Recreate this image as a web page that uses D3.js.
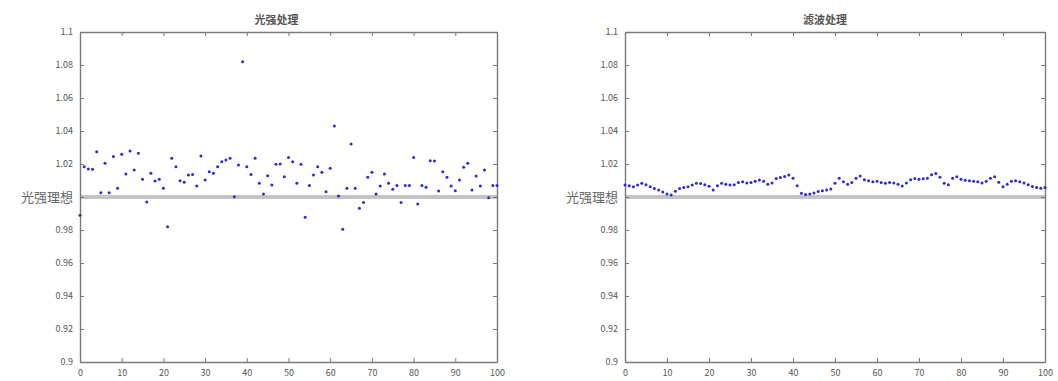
<!DOCTYPE html>
<html>
<head>
<meta charset="utf-8">
<script src="https://cdn.jsdelivr.net/npm/d3@7"></script>
<style>
  body { margin: 0; background: #fff; }
  svg text { font-family: "Noto Sans CJK SC", "DejaVu Sans", sans-serif; }
</style>
</head>
<body>
<div id="chart"></div>
<script>
// chart data
var titles = ["光强处理", "滤波处理"];
var refLabel = "光强理想";
var xTicks = [0, 10, 20, 30, 40, 50, 60, 70, 80, 90, 100];
var yTicks = [0.9, 0.92, 0.94, 0.96, 0.98, 1.0, 1.02, 1.04, 1.06, 1.08, 1.1];
var refValue = 1.0;

// left panel: raw measurements, sample 0..100
var rawValues = [
  0.989, 1.0184, 1.017, 1.0168, 1.0275, 1.0026, 1.0204, 1.0026, 1.0245, 1.0053,
  1.0259, 1.014, 1.0279, 1.0164, 1.0265, 1.0107, 0.997, 1.0144, 1.0097, 1.0107,
  1.0053, 0.982, 1.0235, 1.0184, 1.0099, 1.0089, 1.0133, 1.0137, 1.0067, 1.0249,
  1.0103, 1.0153, 1.0144, 1.0184, 1.0214, 1.0225, 1.0235, 1.0002, 1.0194, 1.082,
  1.0184, 1.0137, 1.0235, 1.0083, 1.0018, 1.0129, 1.0073, 1.0198, 1.02, 1.0123,
  1.024, 1.0214, 1.0083, 1.0198, 0.9877, 1.0069, 1.0133, 1.0184, 1.015, 1.0032,
  1.0174, 1.043, 1.0006, 0.9804, 1.0053, 1.0321, 1.0053, 0.9932, 0.9966, 1.012,
  1.015, 1.0018, 1.0067, 1.014, 1.0083, 1.0047, 1.0069, 0.9966, 1.0069, 1.0069,
  1.024, 0.9958, 1.0069, 1.0059, 1.022, 1.0218, 1.0036, 1.0153, 1.012, 1.0067,
  1.0038, 1.0103, 1.018, 1.0204, 1.0042, 1.0127, 1.0067, 1.0164, 0.9996, 1.0069,
  1.0069
];

// right panel: filtered values, sample 0..100
var filteredValues = [
  1.0073, 1.0068, 1.0062, 1.0072, 1.0083, 1.0075, 1.0062, 1.0052, 1.0042, 1.003,
  1.0018, 1.0012, 1.0035, 1.0052, 1.0058, 1.0062, 1.0072, 1.0083, 1.0082, 1.0075,
  1.0065, 1.0042, 1.0068, 1.0083, 1.0078, 1.0072, 1.0075, 1.0088, 1.0092, 1.0085,
  1.0088, 1.0095, 1.0103, 1.0095, 1.0078, 1.0085, 1.0112, 1.0118, 1.0125, 1.0133,
  1.0113, 1.0068, 1.0022, 1.0015, 1.0018, 1.0025, 1.0034, 1.0038, 1.0042, 1.0048,
  1.0083, 1.0113, 1.0092, 1.0078, 1.0088, 1.0113, 1.0127, 1.0105, 1.0098, 1.0092,
  1.0095, 1.0088, 1.0083, 1.0088, 1.0085, 1.0078, 1.0067, 1.0085, 1.0105, 1.0112,
  1.0108, 1.011, 1.0113, 1.0135, 1.0142, 1.012, 1.0083, 1.0075, 1.0113, 1.0123,
  1.0108, 1.0102, 1.0098, 1.0095, 1.0092, 1.0085, 1.0095, 1.0113, 1.0123, 1.009,
  1.0062, 1.0078, 1.0095, 1.0099, 1.0092, 1.0085, 1.0075, 1.0064, 1.0058, 1.0053,
  1.0058
];

//******************
// Setup
//******************
var width = 1058;
var height = 381;
var plotTop = 32, plotBottom = 362;

var svg = d3
  .select("#chart")
  .append("svg")
  .attr("width", width)
  .attr("height", height);

svg.append("rect").attr("width", width).attr("height", height).attr("fill", "#fff");

var panels = [
  { title: titles[0], values: rawValues, left: 80, right: 497, titleShift: -12 },
  { title: titles[1], values: filteredValues, left: 625, right: 1045, titleShift: -10 }
];

var yFmt = (d) => (Math.abs(d - refValue) < 1e-9 ? refLabel : d3.format("")(+d.toFixed(2)));

panels.forEach(function (p) {
  var x = d3.scaleLinear().domain([0, 100]).range([p.left, p.right]);
  var y = d3.scaleLinear().domain([0.9, 1.1]).range([plotBottom, plotTop]);

  var g = svg.append("g");

  // reference line at 1.0
  g.append("line")
    .attr("x1", x(0))
    .attr("x2", x(100))
    .attr("y1", y(refValue))
    .attr("y2", y(refValue))
    .attr("stroke", "#c4c4c4")
    .attr("stroke-width", 4);

  // axes with inward ticks (matlab style)
  var axisStyle = (sel) => {
    sel.select(".domain").attr("stroke", "#7a7a7a").attr("stroke-width", 1.4);
    sel.selectAll(".tick line").attr("stroke", "#7a7a7a");
    sel.selectAll(".tick text").attr("fill", "#555").attr("font-size", 9);
  };

  g.append("g")
    .attr("transform", `translate(0,${plotBottom})`)
    .call(d3.axisBottom(x).tickValues(xTicks).tickSizeInner(-4).tickSizeOuter(0).tickPadding(8))
    .call(axisStyle);

  g.append("g")
    .attr("transform", `translate(0,${plotTop})`)
    .call(d3.axisTop(x).tickValues(xTicks).tickSizeInner(-4).tickSizeOuter(0).tickFormat(""))
    .call(axisStyle);

  g.append("g")
    .attr("transform", `translate(${p.left},0)`)
    .call(d3.axisLeft(y).tickValues(yTicks).tickSizeInner(-4).tickSizeOuter(0).tickPadding(7).tickFormat(yFmt))
    .call(axisStyle);

  g.append("g")
    .attr("transform", `translate(${p.right},0)`)
    .call(d3.axisRight(y).tickValues(yTicks).tickSizeInner(-4).tickSizeOuter(0).tickFormat(""))
    .call(axisStyle);

  // the custom label at 1.0 is larger
  g.selectAll(".tick text")
    .filter((d) => Math.abs(d - refValue) < 1e-9)
    .attr("font-size", 13)
    .attr("fill", "#666");

  // title
  g.append("text")
    .attr("x", (p.left + p.right) / 2 + p.titleShift)
    .attr("y", 24)
    .attr("text-anchor", "middle")
    .attr("font-size", 11)
    .attr("font-weight", "bold")
    .attr("fill", "#555")
    .text(p.title);

  // points
  g.append("g")
    .selectAll("circle")
    .data(p.values)
    .join("circle")
    .attr("cx", (d, i) => x(i))
    .attr("cy", (d) => y(d))
    .attr("r", 1.5)
    .attr("fill", "#2a2ad8");
});
</script>
</body>
</html>
